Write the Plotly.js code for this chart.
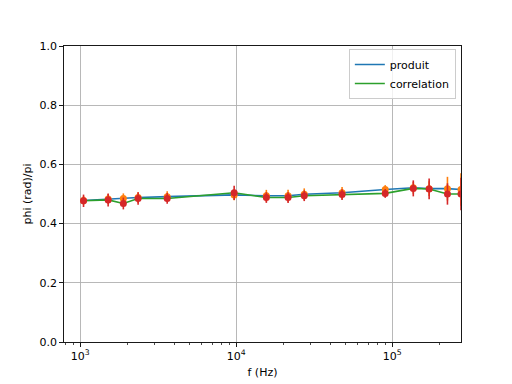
<!DOCTYPE html>
<html>
<head>
<meta charset="utf-8">
<script src="https://cdn.plot.ly/plotly-3.0.1.min.js"></script>
<style>html,body{margin:0;padding:0;background:#fff;}#chart{width:512px;height:384px;}</style>
</head>
<body>
<div id="chart"></div>
<script>
const freq = [1050, 1510, 1890, 2350, 3610, 9700, 15600, 21500, 27300, 47700, 90200, 136500, 172500, 226000, 276000];
const produit = [0.478, 0.483, 0.485, 0.488, 0.491, 0.497, 0.494, 0.494, 0.499, 0.504, 0.515, 0.521, 0.518, 0.518, 0.515];
const produitErr = [0.015, 0.017, 0.017, 0.018, 0.018, 0.018, 0.020, 0.020, 0.020, 0.020, 0.015, 0.020, 0.025, 0.040, 0.055];
const correlation = [0.477, 0.480, 0.468, 0.485, 0.485, 0.504, 0.488, 0.488, 0.494, 0.498, 0.502, 0.519, 0.517, 0.500, 0.500];
const correlationErr = [0.021, 0.022, 0.020, 0.021, 0.018, 0.024, 0.018, 0.018, 0.018, 0.018, 0.015, 0.027, 0.035, 0.036, 0.055];
const xTickVals = [1000, 10000, 100000];
const xTickText = ['10<sup>3</sup>', '10<sup>4</sup>', '10<sup>5</sup>'];
const yTickVals = [0, 0.2, 0.4, 0.6, 0.8, 1.0];

const minorVals = [];
[100, 1000, 10000, 100000].forEach(d => { for (let k = 2; k <= 9; k++) minorVals.push(k * d); });

const C0 = '#1f77b4', C1 = '#ff7f0e', C2 = '#2ca02c', C3 = '#d62728';

const traces = [
  {x: freq, y: produit, type: 'scatter', mode: 'lines', name: 'produit',
   line: {color: C0, width: 1.6}, cliponaxis: true},
  {x: freq, y: produit, type: 'scatter', mode: 'markers', showlegend: false,
   marker: {color: C1, size: 7},
   error_y: {type: 'data', array: produitErr, color: C1, thickness: 1.6, width: 0},
   cliponaxis: true},
  {x: freq, y: correlation, type: 'scatter', mode: 'lines', name: 'correlation',
   line: {color: C2, width: 1.6}, cliponaxis: true},
  {x: freq, y: correlation, type: 'scatter', mode: 'markers', showlegend: false,
   marker: {color: C3, size: 7},
   error_y: {type: 'data', array: correlationErr, color: C3, thickness: 1.6, width: 0},
   cliponaxis: true}
];

const font = {family: 'DejaVu Sans', size: 11, color: '#000'};

const layout = {
  width: 512, height: 384,
  margin: {l: 64, r: 51, t: 46, b: 42, pad: 0},
  paper_bgcolor: '#fff', plot_bgcolor: '#fff',
  font: font,
  showlegend: true,
  legend: {x: 0.987, xanchor: 'right', y: 0.99, yanchor: 'top',
           bgcolor: 'rgba(255,255,255,0.8)', bordercolor: '#cccccc', borderwidth: 1,
           font: font, itemwidth: 30, tracegroupgap: 0},
  xaxis: {
    type: 'log', range: [2.896, 5.441],
    tickmode: 'array', tickvals: xTickVals, ticktext: xTickText,
    ticks: 'outside', ticklen: 4, tickwidth: 0.9, tickcolor: '#000',
    showgrid: true, gridcolor: '#b0b0b0', gridwidth: 0.9,
    showline: true, linecolor: '#000', linewidth: 0.9, mirror: true,
    zeroline: false,
    minor: {tickmode: 'array', tickvals: minorVals, ticks: 'outside', ticklen: 2, tickwidth: 0.7, tickcolor: '#000', showgrid: false},
    title: {text: 'f (Hz)', font: font, standoff: 6},
    tickfont: font
  },
  yaxis: {
    range: [0, 1],
    tickmode: 'array', tickvals: yTickVals, tickformat: '.1f',
    ticks: 'outside', ticklen: 4, tickwidth: 0.9, tickcolor: '#000',
    showgrid: true, gridcolor: '#b0b0b0', gridwidth: 0.9,
    showline: true, linecolor: '#000', linewidth: 0.9, mirror: true,
    zeroline: false,
    title: {text: 'phi (rad)/pi', font: font, standoff: 5},
    tickfont: font
  }
};

Plotly.newPlot('chart', traces, layout, {staticPlot: true, displayModeBar: false});
</script>
</body>
</html>
